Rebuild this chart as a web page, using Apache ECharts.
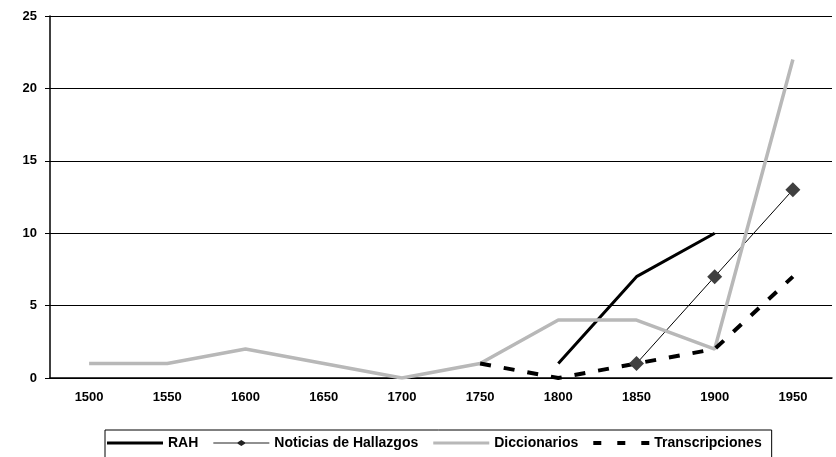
<!DOCTYPE html>
<html><head><meta charset="utf-8">
<script src="https://cdn.jsdelivr.net/npm/echarts@6/dist/echarts.min.js"></script>
<style>html,body{margin:0;padding:0;background:#fff}#c{width:836px;height:457px}</style>
</head><body><div id="c"></div>
<script>
var categories = ['1500','1550','1600','1650','1700','1750','1800','1850','1900','1950'];
var rah = [null,null,null,null,null,null,1,7,10,null];
var noticias = [null,null,null,null,null,null,null,1,7,13];
var diccionarios = [1,1,2,1,0,1,4,4,2,22];
var transcripciones = [null,null,null,null,null,1,0,1,2,7];
var yTicks = [0,5,10,15,20,25];

var FONT = '"Liberation Sans",Arial,sans-serif';
var chart = echarts.init(document.getElementById('c'));
chart.setOption({
  animation:false,
  backgroundColor:'#fff',
  textStyle:{fontFamily:FONT},
  grid:{left:50,right:4,top:16,bottom:79},
  legend:{
    top:430,left:105,
    itemWidth:56,itemHeight:12,itemGap:15,
    borderColor:'#000',borderWidth:1,padding:[6,10,12,2],
    itemStyle:{borderWidth:0},
    textStyle:{fontFamily:FONT,fontWeight:'bold',fontSize:14,color:'#000'},
    data:[
      {name:'RAH',icon:'path://M0,0H56V3H0Z',itemStyle:{color:'#000'}},
      {name:'Noticias de Hallazgos',icon:'path://M0,2.5H24L28,0L32,2.5H56V3.5H32L28,6L24,3.5H0Z',itemStyle:{color:'#222'}},
      {name:'Diccionarios',icon:'path://M0,0H56V3H0Z',itemStyle:{color:'#b8b8b8'}},
      {name:'Transcripciones',icon:'path://M0,0H8V4H0Z M24,0H32V4H24Z M48,0H56V4H48Z',itemStyle:{color:'#000'}}
    ]
  },
  xAxis:{
    type:'category',data:categories,boundaryGap:true,
    axisLine:{lineStyle:{color:'#000',width:1.5}},
    axisTick:{lineStyle:{color:'#000'},length:5},
    axisLabel:{color:'#000',fontWeight:'bold',fontSize:13,margin:13,fontFamily:FONT}
  },
  yAxis:{
    type:'value',min:yTicks[0],max:yTicks[yTicks.length-1],interval:5,
    axisLine:{show:true,lineStyle:{color:'#000',width:1.5}},
    axisTick:{show:true,length:5,lineStyle:{color:'#000'}},
    splitLine:{lineStyle:{color:'#000',width:1}},
    axisLabel:{color:'#000',fontWeight:'bold',fontSize:13,margin:13,fontFamily:FONT}
  },
  series:[
    {name:'RAH',type:'line',data:rah,symbol:'none',lineStyle:{color:'#000',width:3},itemStyle:{color:'#000'}},
    {name:'Noticias de Hallazgos',type:'line',data:noticias,symbol:'diamond',symbolSize:15,
     lineStyle:{color:'#000',width:1},itemStyle:{color:'#404040'}},
    {name:'Diccionarios',type:'line',data:diccionarios,symbol:'none',lineStyle:{color:'#b8b8b8',width:3.5},itemStyle:{color:'#b8b8b8'}},
    {name:'Transcripciones',type:'line',data:transcripciones,symbol:'none',
     lineStyle:{color:'#000',width:4,type:[11,13]},itemStyle:{color:'#000'}}
  ]
});
</script></body></html>
